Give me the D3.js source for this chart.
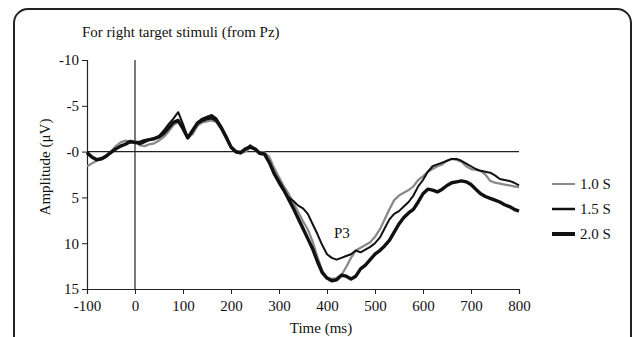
<!DOCTYPE html>
<html><head><meta charset="utf-8">
<script src="https://cdn.jsdelivr.net/npm/d3@7"></script>
<style>body{margin:0;background:#fff}svg{display:block}text{font-family:"Liberation Serif","Times New Roman",serif;fill:#111}</style>
</head><body><svg id="c" width="633" height="337"></svg>
<script>
const times = d3.range(-100, 801, 10);
const s10 = [1.6,1.3,1.0,0.8,0.5,0.0,-0.6,-1.0,-1.2,-1.1,-1.1,-0.7,-0.6,-0.8,-0.9,-1.2,-1.6,-2.2,-2.9,-3.2,-2.6,-1.5,-1.9,-2.8,-3.2,-3.3,-3.4,-3.2,-2.4,-1.4,-0.5,0.0,0.2,0.0,-0.4,-0.2,0.1,0.1,0.6,1.8,2.8,3.8,4.6,5.6,6.6,7.6,8.5,9.8,11.5,13.0,13.8,13.9,13.8,13.5,12.6,11.6,10.8,10.5,10.2,9.9,9.3,8.5,7.4,6.3,5.3,4.8,4.5,4.2,3.8,3.1,2.7,2.2,1.9,1.6,1.4,1.0,0.8,0.9,1.1,1.6,1.9,2.0,2.1,2.5,3.2,3.4,3.5,3.6,3.7,3.8,3.9];
const s15 = [0.2,0.6,0.8,0.7,0.4,0.0,-0.3,-0.6,-0.8,-1.0,-1.0,-0.8,-1.0,-1.3,-1.5,-1.7,-2.3,-3.0,-3.6,-4.3,-3.0,-1.5,-2.2,-3.2,-3.6,-3.8,-4.0,-3.6,-2.6,-1.5,-0.4,0.1,0.2,-0.2,-0.7,-0.3,0.1,0.2,1.2,2.5,3.5,4.3,5.0,5.4,5.9,6.2,6.8,7.9,9.0,10.2,11.2,11.6,11.8,11.6,11.4,11.2,10.8,11.0,10.7,10.4,10.0,9.4,8.4,7.4,6.8,6.5,6.0,5.5,4.8,3.8,3.1,2.2,1.6,1.4,1.2,1.0,0.8,0.8,1.0,1.3,1.6,1.9,2.1,2.2,2.3,2.6,3.0,3.1,3.2,3.4,3.7];
const s20 = [0.1,0.6,0.9,0.8,0.5,0.1,-0.3,-0.6,-0.8,-1.1,-1.0,-1.0,-1.2,-1.3,-1.4,-1.6,-2.0,-2.6,-3.2,-3.4,-2.5,-1.5,-2.3,-3.1,-3.4,-3.6,-3.7,-3.4,-2.6,-1.6,-0.5,0.0,0.1,-0.3,-0.5,-0.3,0.2,0.3,1.2,2.4,3.3,4.2,5.2,6.2,7.3,8.4,9.5,10.6,12.0,13.2,13.8,14.1,14.0,13.5,13.6,13.9,13.6,12.8,12.4,11.8,11.2,10.8,10.3,9.7,8.8,7.9,7.2,6.7,6.3,5.5,4.6,4.1,4.2,4.4,4.1,3.7,3.4,3.3,3.2,3.3,3.6,4.1,4.6,4.9,5.1,5.3,5.5,5.8,6.0,6.3,6.5];
const seriesNames = ["1.0 S","1.5 S","2.0 S"];
const xTicks = [-100,0,100,200,300,400,500,600,700,800];
const xTickLabels = ["-100","0","100","200","300","400","500","600","700","800"];
const yTicks = [-10,-5,0,5,10,15];
const yTickLabels = ["-10","-5","-0","5","10","15"];

const FS = 15;
const svg = d3.select("#c");
svg.append("rect").attr("x",14).attr("y",9).attr("width",617).attr("height",400).attr("rx",14)
  .attr("fill","none").attr("stroke","#222").attr("stroke-width",2);

const x = d3.scaleLinear().domain([-100,800]).range([87,519]);
const y = d3.scaleLinear().domain([-10,15]).range([60,289]);

svg.append("text").attr("x",82).attr("y",37).attr("font-size",FS).text("For right target stimuli (from Pz)");

svg.append("line").attr("x1",x(-100)).attr("x2",x(800)).attr("y1",y(0)).attr("y2",y(0)).attr("stroke","#222").attr("stroke-width",1.2);
svg.append("line").attr("x1",x(0)).attr("x2",x(0)).attr("y1",y(-10)).attr("y2",y(15)).attr("stroke","#222").attr("stroke-width",1.2);

const ya = svg.append("g").attr("transform",`translate(${x(-100)},0)`)
  .call(d3.axisLeft(y).tickValues(yTicks).tickSize(5).tickFormat((d,i)=>yTickLabels[i]));
const xa = svg.append("g").attr("transform",`translate(0,${y(15)})`)
  .call(d3.axisBottom(x).tickValues(xTicks).tickSize(5).tickFormat((d,i)=>xTickLabels[i]));
[ya,xa].forEach(a=>{a.select(".domain").attr("stroke","#222").attr("stroke-width",1.2);
  a.selectAll(".tick line").attr("stroke","#222");
  a.selectAll("text").attr("font-size",FS).attr("font-family","Liberation Serif").attr("fill","#111");});
xa.selectAll("text").attr("dy","0.9em");

const styles = [{c:"#8a8a8a",w:2.3},{c:"#111",w:2},{c:"#111",w:3.4}];
const data = [s10,s15,s20];
const line = d3.line().x((d,i)=>x(times[i])).y(d=>y(d));
data.forEach((s,k)=>{
  svg.append("path").datum(s).attr("d",line).attr("fill","none")
    .attr("stroke",styles[k].c).attr("stroke-width",styles[k].w).attr("stroke-linejoin","round");
});

svg.append("text").attr("x",334).attr("y",238).attr("font-size",FS).text("P3");

svg.append("text").attr("transform","translate(50,167) rotate(-90)").attr("text-anchor","middle")
  .attr("font-size",FS).text("Amplitude  (μV)");
svg.append("text").attr("x",321).attr("y",333).attr("text-anchor","middle").attr("font-size",FS).text("Time (ms)");

const lw = [2,2.5,4];
seriesNames.forEach((n,k)=>{
  const yy = 184 + k*25;
  svg.append("line").attr("x1",552).attr("x2",575).attr("y1",yy).attr("y2",yy)
    .attr("stroke",styles[k].c).attr("stroke-width",lw[k]);
  svg.append("text").attr("x",580).attr("y",yy+5).attr("font-size",FS).text(n);
});
</script></body></html>
